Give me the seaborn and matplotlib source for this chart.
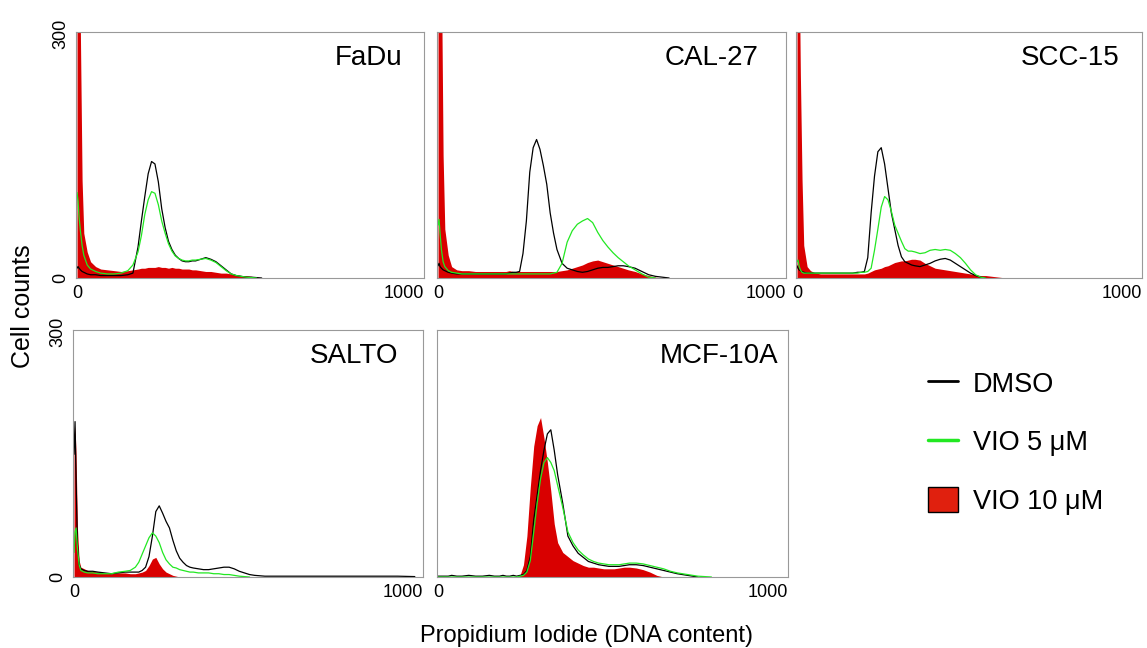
import matplotlib
matplotlib.use('Agg')
import matplotlib.pyplot as plt
import matplotlib.transforms as mtransforms
from matplotlib.lines import Line2D
from matplotlib.patches import Patch
import seaborn as sns
import pandas as pd

# canal PI (eixo x) comum a todos os histogramas
canal = [0, 3, 6, 10, 15, 20, 30, 40, 55, 70, 90, 110, 130, 150, 165, 180, 190, 200, 210, 220,
         230, 240, 250, 260, 270, 280, 290, 300, 310, 320, 330, 340, 350, 365, 380, 395, 410, 425,
         440, 455, 470, 485, 500, 515, 530, 545, 560, 580, 600, 620, 640, 660, 680, 700, 730, 760,
         800, 850, 900, 950, 1000]

linhagens = ['FaDu', 'CAL-27', 'SCC-15', 'SALTO', 'MCF-10A']

# contagens (DMSO, VIO 5 uM, VIO 10 uM)
fadu_dmso = [12, 14, 12, 10, 8, 7, 5, 4, 4, 3, 3, 3, 3, 4, 6, 38, 70, 100, 128, 143,
             140, 118, 85, 62, 45, 35, 28, 24, 21, 20, 20, 21, 21, 23, 25, 23, 20, 15,
             10, 5, 3, 2, 1, 1, 0.5, 0, 0, 0, 0, 0, 0, 0, 0, 0, 0, 0, 0, 0, 0, 0, 0]
fadu_vio5 = [105, 95, 75, 58, 40, 28, 16, 11, 8, 6, 5, 5, 6, 9, 16, 32, 52, 78, 96, 106,
             104, 90, 70, 55, 42, 33, 27, 24, 22, 21, 21, 22, 22, 23, 24, 22, 19, 14,
             9, 5, 3, 2, 1, 0.5, 0, 0, 0, 0, 0, 0, 0, 0, 0, 0, 0, 0, 0, 0, 0, 0, 0]
fadu_vio10 = [420, 420, 410, 300, 120, 55, 32, 20, 14, 11, 10, 9, 8, 9, 10, 11, 12, 12, 13, 13,
              13, 14, 13, 13, 12, 13, 12, 12, 11, 11, 11, 10, 10, 9, 8, 8, 7, 6,
              6, 5, 4, 3, 3, 2, 1, 0.5, 0, 0, 0, 0, 0, 0, 0, 0, 0, 0, 0, 0, 0, 0, 0]

cal27_dmso = [15, 18, 14, 12, 10, 9, 7, 6, 5, 5, 5, 5, 5, 5, 5, 5, 5, 5, 6, 7,
              7, 8, 30, 70, 130, 160, 170, 158, 138, 115, 80, 55, 35, 18, 12, 10, 8, 7,
              8, 10, 12, 13, 13, 14, 15, 15, 14, 12, 8, 4, 2, 1, 0, 0, 0, 0, 0, 0, 0, 0, 0]
cal27_vio5 = [65, 72, 55, 35, 20, 14, 9, 7, 6, 5, 5, 5, 5, 5, 5, 5, 5, 5, 5, 5,
              5, 5, 5, 5, 5, 5, 5, 5, 5, 5, 5, 6, 7, 18, 44, 58, 66, 70,
              73, 68, 56, 46, 38, 31, 25, 20, 15, 10, 5, 1, 0, 0, 0, 0, 0, 0, 0, 0, 0, 0, 0]
cal27_vio10 = [420, 420, 420, 380, 150, 60, 28, 14, 10, 9, 9, 8, 8, 8, 8, 8, 8, 8, 9, 8,
               8, 8, 8, 8, 8, 8, 8, 8, 8, 8, 8, 8, 8, 9, 10, 12, 14, 16,
               19, 21, 22, 20, 18, 16, 14, 12, 10, 8, 5, 3, 1, 0, 0, 0, 0, 0, 0, 0, 0, 0, 0]

scc15_dmso = [15, 12, 10, 9, 8, 7, 6, 6, 6, 6, 6, 6, 6, 6, 6, 7, 7, 8, 25, 80,
              125, 155, 160, 140, 110, 80, 60, 40, 26, 20, 18, 16, 15, 14, 16, 18, 21, 23,
              24, 22, 18, 14, 10, 6, 3, 1, 0, 0, 0, 0, 0, 0, 0, 0, 0, 0, 0, 0, 0, 0, 0]
scc15_vio5 = [20, 22, 15, 10, 7, 6, 6, 6, 6, 6, 6, 6, 6, 6, 6, 6, 7, 7, 8, 12,
              34, 60, 87, 100, 96, 82, 65, 55, 45, 36, 33, 33, 32, 30, 31, 34, 35, 34,
              35, 34, 30, 25, 18, 10, 4, 1, 0, 0, 0, 0, 0, 0, 0, 0, 0, 0, 0, 0, 0, 0, 0]
scc15_vio10 = [420, 420, 400, 250, 120, 40, 14, 9, 6, 5, 5, 5, 5, 5, 5, 5, 5, 5, 6, 8,
               10, 11, 12, 14, 15, 17, 19, 20, 21, 21, 22, 23, 23, 22, 18, 15, 12, 11,
               10, 9, 8, 7, 6, 5, 4, 3, 3, 2, 1, 0, 0, 0, 0, 0, 0, 0, 0, 0, 0, 0, 0]

salto_dmso = [150, 190, 120, 40, 15, 10, 8, 7, 7, 6, 5, 4, 5, 6, 6, 6, 6, 8, 12, 25,
              50, 80, 87, 78, 68, 60, 45, 32, 23, 18, 14, 12, 11, 10, 9, 9, 10, 11,
              12, 12, 10, 7, 5, 3, 2, 1.5, 1, 1, 1, 1, 1, 1, 1, 1, 1, 1, 1, 1, 1, 1, 0.5]
salto_vio5 = [30, 55, 60, 35, 15, 8, 6, 5, 5, 4, 4, 4, 6, 7, 8, 12, 18, 28, 38, 48,
              54, 50, 42, 30, 21, 16, 12, 11, 9, 8, 7, 6, 6, 5, 5, 5, 4, 4,
              3, 3, 2, 1, 0.5, 0, 0, 0, 0, 0, 0, 0, 0, 0, 0, 0, 0, 0, 0, 0, 0, 0, 0]
salto_vio10 = [160, 185, 150, 60, 20, 12, 10, 8, 7, 6, 5, 4, 5, 5, 4, 4, 5, 6, 8, 14,
               22, 24, 16, 10, 6, 4, 2, 1, 0, 0, 0, 0, 0, 0, 0, 0, 0, 0,
               0, 0, 0, 0, 0, 0, 0, 0, 0, 0, 0, 0, 0, 0, 0, 0, 0, 0, 0, 0, 0, 0, 0]

mcf10a_dmso = [1, 1, 1, 1, 1, 1, 1, 2, 1, 1, 2, 1, 1, 2, 1, 1, 2, 1, 1, 2,
               1, 2, 3, 8, 25, 70, 100, 130, 155, 175, 180, 155, 125, 90, 50, 38, 29, 24,
               19, 17, 15, 14, 13, 13, 13, 14, 15, 15, 14, 12, 10, 8, 6, 4, 2, 0, 0, 0, 0, 0, 0]
mcf10a_vio5 = [0, 0, 0, 0, 0, 0, 0, 0, 0, 0, 0, 0, 0, 0, 0, 0, 0, 0, 0, 0,
               0, 1, 2, 6, 20, 55, 90, 120, 140, 146, 140, 130, 112, 85, 55, 42, 33, 27,
               22, 19, 17, 16, 15, 15, 15, 16, 17, 17, 16, 14, 12, 10, 7, 5, 3, 1, 0, 0, 0, 0, 0]
mcf10a_vio10 = [0, 0, 0, 0, 0, 0, 0, 0, 0, 0, 0, 0, 0, 0, 0, 0, 0, 0, 0, 0,
                0, 2, 15, 50, 110, 160, 185, 195, 170, 140, 105, 65, 42, 30, 25, 20, 17, 14,
                12, 12, 11, 10, 10, 10, 11, 12, 12, 11, 9, 6, 2, 0, 0, 0, 0, 0, 0, 0, 0, 0, 0]

dmso = [fadu_dmso, cal27_dmso, scc15_dmso, salto_dmso, mcf10a_dmso]
vio5 = [fadu_vio5, cal27_vio5, scc15_vio5, salto_vio5, mcf10a_vio5]
vio10 = [fadu_vio10, cal27_vio10, scc15_vio10, salto_vio10, mcf10a_vio10]

cores = {'DMSO': 'black', 'VIO 5 μM': '#22e822'}
vermelho = '#d90000'

sns.set_style('white')
plt.rcParams['font.family'] = ['Liberation Sans', 'DejaVu Sans']
plt.rcParams['text.color'] = 'black'
plt.rcParams['xtick.labelcolor'] = 'black'
plt.rcParams['ytick.labelcolor'] = 'black'


def ate_o_fim(valores):
    # corta a cauda de zeros (o histograma termina ali)
    ultimo = max(k for k, v in enumerate(valores) if v > 0)
    fim = min(ultimo + 2, len(valores))
    return canal[:fim], valores[:fim]


fig = plt.figure(figsize=(11.47, 6.48), dpi=100)
W, H = 1147, 648

# caixas dos paineis em pixels: esquerda, direita, topo, base
caixas = [(76, 424, 32, 278), (437, 786, 32, 278), (796, 1142, 32, 278),
          (73, 423, 330, 577), (437, 788, 330, 577)]
pos_titulo = [0.937, 0.92, 0.936, 0.929, 0.974]

for i, nome in enumerate(linhagens):
    l, r, t, b = caixas[i]
    ax = fig.add_axes([l / W, 1 - b / H, (r - l) / W, (b - t) / H])

    ax.fill_between(canal, vio10[i], color=vermelho, linewidth=0, zorder=1)

    x_d, y_d = ate_o_fim(dmso[i])
    x_v, y_v = ate_o_fim(vio5[i])
    df_linhas = pd.DataFrame({
        'canal': x_d + x_v,
        'contagem': y_d + y_v,
        'condicao': ['DMSO'] * len(x_d) + ['VIO 5 μM'] * len(x_v),
    })
    sns.lineplot(data=df_linhas, x='canal', y='contagem', hue='condicao', palette=cores,
                 linewidth=0.9, legend=False, ax=ax, zorder=2)

    ax.set_xlim(-3, 1024)
    ax.set_ylim(0, 302)
    ax.set_xlabel('')
    ax.set_ylabel('')
    ax.set_xticks([0, 1000])
    ax.set_xticks(range(0, 1001, 100), minor=True)
    ax.set_yticks([0, 300])
    ax.set_yticks(range(0, 301, 30), minor=True)
    ax.tick_params(axis='both', which='major', direction='in', length=3, color='#999999',
                   labelsize=13, pad=5, labelcolor='black')
    ax.tick_params(axis='both', which='minor', direction='in', length=2, color='#aaaaaa')
    if i in (0, 3):
        ax.set_yticklabels(['0', '300'], rotation=90, va='center')
    else:
        ax.set_yticklabels([])
    deslocamento = mtransforms.ScaledTranslation(-0.12, 0, fig.dpi_scale_trans)
    rotulo_mil = ax.get_xticklabels()[1]
    rotulo_mil.set_transform(rotulo_mil.get_transform() + deslocamento)

    for spine in ax.spines.values():
        spine.set_color('#999999')
        spine.set_linewidth(0.8)

    ax.text(pos_titulo[i], 0.866, nome, transform=ax.transAxes, ha='right', va='baseline',
            fontsize=20, color='black')

fig.text(23 / W, 1 - 306 / H, 'Cell counts', rotation=90, ha='center', va='center',
         fontsize=18, color='black')
fig.text(586 / W, 6 / H, 'Propidium Iodide (DNA content)', ha='center', va='baseline',
         fontsize=17, color='black')

handles = [Line2D([], [], color='black', linewidth=2),
           Line2D([], [], color='#22e822', linewidth=2.5),
           Patch(facecolor='#e0200e', edgecolor='black', linewidth=1)]
fig.legend(handles, ['DMSO', 'VIO 5 μM', 'VIO 10 μM'], loc='upper left',
           bbox_to_anchor=(904 / W, 1 - 346 / H), frameon=False, fontsize=19.5,
           handlelength=1.1, handletextpad=0.55, labelspacing=1.15, handleheight=1.0,
           labelcolor='black')

fig.savefig('out.png', dpi=100)
